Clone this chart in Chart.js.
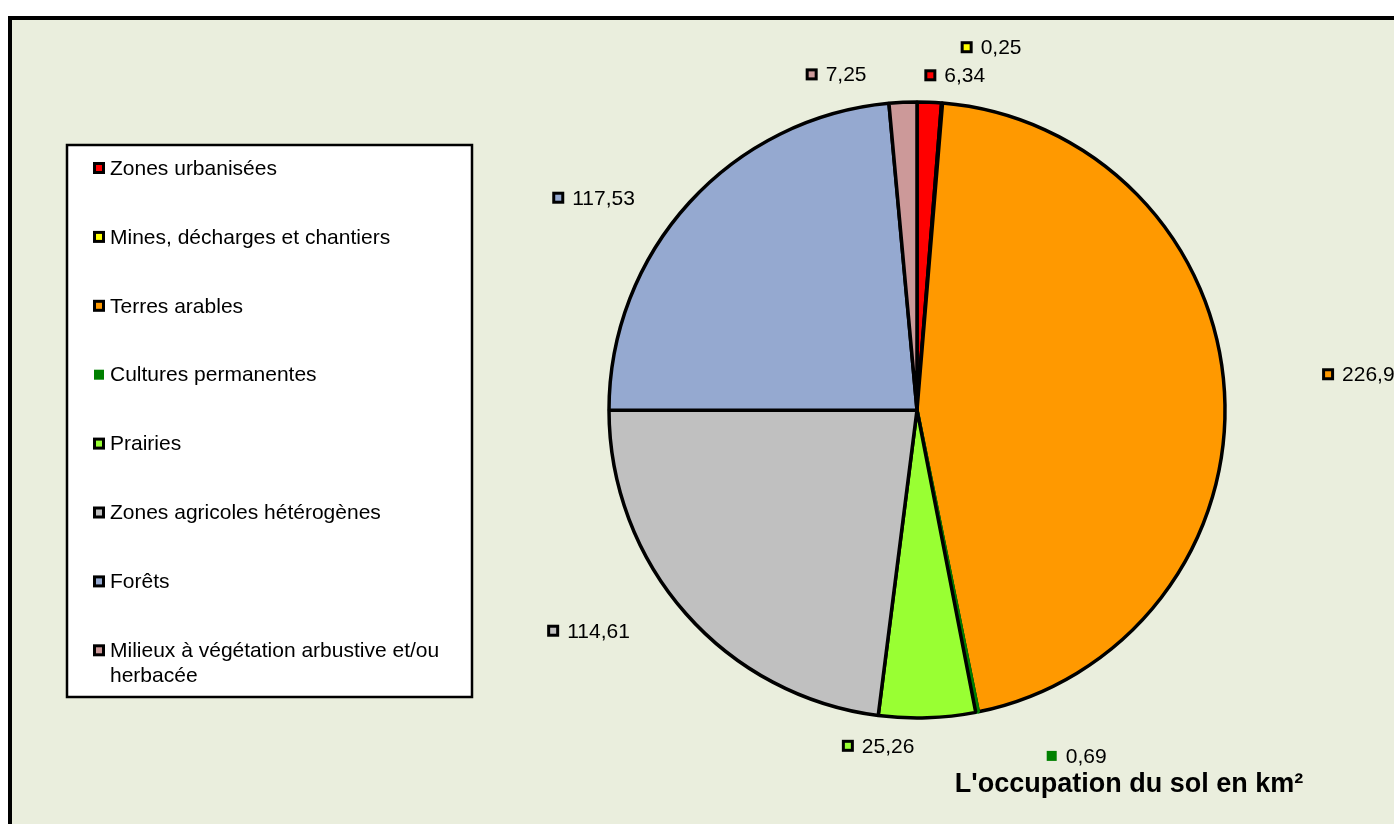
<!DOCTYPE html>
<html>
<head>
<meta charset="utf-8">
<script src="https://cdn.jsdelivr.net/npm/chart.js@4.4.1/dist/chart.umd.min.js"></script>
<style>
  html, body { margin: 0; padding: 0; background: #fff; }
  #wrap { width: 1394px; height: 824px; position: relative; }
</style>
</head>
<body>
<div id="wrap"><canvas id="chart" width="1394" height="824"></canvas></div>
<script>
// Data
const categories = ['Zones urbanisées', 'Mines, décharges et chantiers', 'Terres arables',
    'Cultures permanentes', 'Prairies', 'Zones agricoles hétérogènes', 'Forêts',
    'Milieux à végétation arbustive et/ou herbacée'];
const areas = [6.34, 0.25, 226.9, 0.69, 25.26, 114.61, 117.53, 7.25];
const valueLabels = ['6,34', '0,25', '226,9', '0,69', '25,26', '114,61', '117,53', '7,25'];
const sliceColors = ['#ff0000', '#ffff00', '#ff9900', '#008000', '#99ff33', '#c0c0c0', '#95a9d0', '#cc9999'];
const titleText = "L'occupation du sol en km²";

const FONT = '"Liberation Sans", Arial, sans-serif';

// outline colour per slice (the green one has none in the original)
const outlines = sliceColors.map(c => c === '#008000' ? c : '#000000');

// nudges for the value labels (px), Excel-style manual placement
const labelNudge = [[23, 35], [44, 6], [72, -14], [87, -17], [-51, -34], [-51, -24], [-50, 37], [-64, 34]];

function drawMarker(ctx, x, y, color, border) {
    if (border === '#000000') {
        ctx.fillStyle = '#000';
        ctx.fillRect(x, y, 12, 12);
        ctx.fillStyle = color;
        ctx.fillRect(x + 3, y + 3, 6, 6);
    } else {
        ctx.fillStyle = color;
        ctx.fillRect(x + 1, y + 1, 10, 10);
    }
}

const framePlugin = {
    id: 'frame',
    beforeDraw(chart) {
        const ctx = chart.ctx;
        ctx.save();
        ctx.fillStyle = '#ffffff';
        ctx.fillRect(0, 0, chart.width, chart.height);
        ctx.fillStyle = '#000';
        ctx.fillRect(8, 16, chart.width, chart.height);
        ctx.fillStyle = '#eaeedd';
        ctx.fillRect(12, 20, chart.width, chart.height);
        ctx.restore();
    },
    afterDraw(chart) {
        const ctx = chart.ctx;
        const meta = chart.getDatasetMeta(0);
        const ds = chart.data.datasets[0];
        ctx.save();

        // legend box
        ctx.fillStyle = '#fff';
        ctx.fillRect(67, 145, 405, 552);
        ctx.strokeStyle = '#000';
        ctx.lineWidth = 2.5;
        ctx.strokeRect(67, 145, 405, 552);
        ctx.font = '21px ' + FONT;
        ctx.textBaseline = 'middle';
        ctx.textAlign = 'left';
        chart.data.labels.forEach((lab, i) => {
            const y = 168 + i * 68.9;
            drawMarker(ctx, 93, y - 6, ds.backgroundColor[i], ds.borderColor[i]);
            ctx.fillStyle = '#000';
            // wrap long labels
            const words = lab.split(' ');
            let line = '', lines = [];
            words.forEach(w => {
                const t = line ? line + ' ' + w : w;
                if (ctx.measureText(t).width > 355 && line) { lines.push(line); line = w; }
                else line = t;
            });
            lines.push(line);
            lines.forEach((l, k) => ctx.fillText(l, 110, y + 1 + k * 25));
        });

        // value labels
        meta.data.forEach((arc, i) => {
            const p = arc.getProps(['x', 'y', 'startAngle', 'endAngle', 'outerRadius'], true);
            const mid = (p.startAngle + p.endAngle) / 2;
            const d = p.outerRadius + 62;
            const cx = p.x + Math.cos(mid) * d + labelNudge[i][0];
            const cy = p.y + Math.sin(mid) * d + labelNudge[i][1];
            const txt = valueLabels[i];
            const w = 12 + 8 + ctx.measureText(txt).width;
            const left = cx - w / 2;
            drawMarker(ctx, left, cy - 6, ds.backgroundColor[i], ds.borderColor[i]);
            ctx.fillStyle = '#000';
            ctx.fillText(txt, left + 20, cy + 1);
        });

        // title
        ctx.font = 'bold 27px ' + FONT;
        ctx.textAlign = 'center';
        ctx.fillText(titleText, 1129, 785);
        ctx.restore();
    }
};

new Chart(document.getElementById('chart'), {
    type: 'pie',
    data: {
        labels: categories,
        datasets: [{
            data: areas,
            backgroundColor: sliceColors,
            borderColor: outlines,
            borderWidth: 3.5
        }]
    },
    options: {
        responsive: false,
        animation: false,
        radius: 308,
        layout: { padding: { left: 609, right: 169, top: 102, bottom: 106 } },
        plugins: {
            legend: { display: false },
            tooltip: { enabled: false }
        }
    },
    plugins: [framePlugin]
});
</script>
</body>
</html>
